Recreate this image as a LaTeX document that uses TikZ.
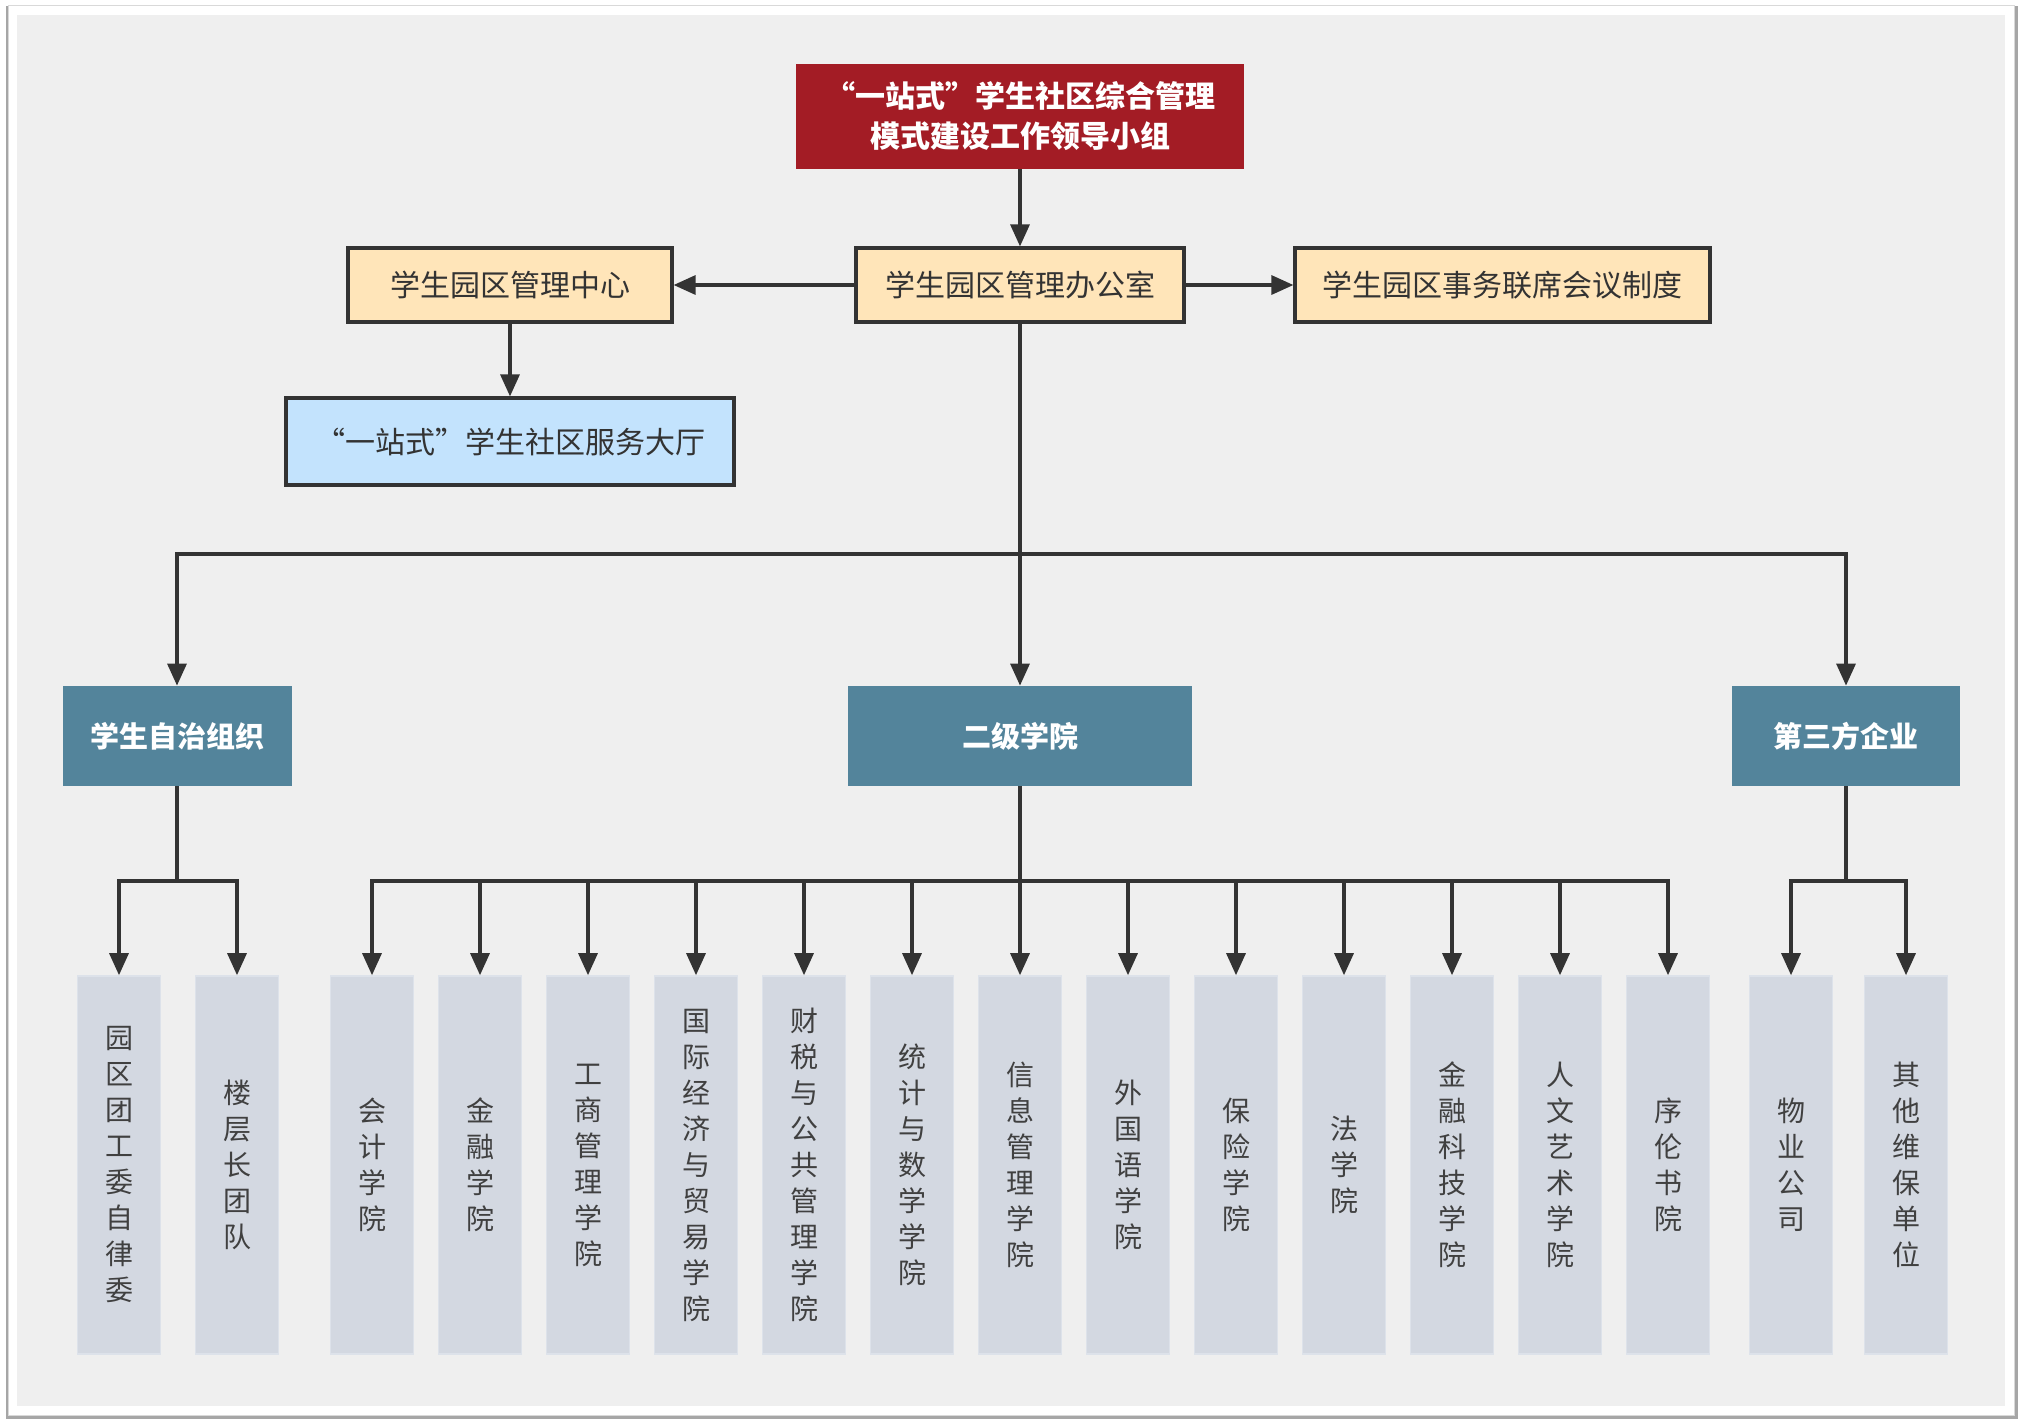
\documentclass[tikz,border=0pt]{standalone}
\usepackage{fontspec}
\setmainfont{Noto Sans CJK SC}
\usetikzlibrary{arrows.meta}
\definecolor{leadred}{HTML}{A31C25}
\definecolor{officeyellow}{HTML}{FFE5B9}
\definecolor{hallblue}{HTML}{C3E3FD}
\definecolor{unitteal}{HTML}{53849B}
\definecolor{leafgray}{HTML}{D3D8E1}
\definecolor{leafedge}{HTML}{DDE2EA}
\definecolor{linegray}{HTML}{333333}
\definecolor{pagegray}{HTML}{EFEFEF}
\begin{document}
\begin{tikzpicture}[x=0.5pt, y=-0.5pt,
  wire/.style={draw=linegray, line width=1.6pt},
  conn/.style={wire, -{Triangle[length=11pt,width=9.5pt]}},
  topbox/.style={fill=leadred, text=white, font=\fontsize{15}{20}\selectfont\bfseries, align=center},
  yellowbox/.style={draw=linegray, line width=1.6pt, fill=officeyellow, text=black!80, font=\fontsize{15}{18}\selectfont, minimum height=37pt},
  tealbox/.style={fill=unitteal, text=white, font=\fontsize{14.5}{18}\selectfont\bfseries, minimum height=50pt},
  leafbox/.style={fill=leafgray, draw=leafedge, line width=0.8pt, text=black!75, font=\fontsize{14}{18}\selectfont, align=center, minimum width=41.5pt, minimum height=189pt}]
\useasboundingbox (0,0) rectangle (2022,1425);
% Rahmen
\fill[black!35] (6,6) rectangle (2018,1419);
\filldraw[fill=white, draw=black!15] (8,5) rectangle (2014,1415);
\fill[pagegray] (17,15) rectangle (2005,1406);

% Leitung und Buero
\node[topbox, minimum width=224pt, minimum height=52.5pt] (lead) at (1020,116.5) {“一站式”学生社区综合管理\\模式建设工作领导小组};
\node[yellowbox, minimum width=164pt] (office) at (1020,285) {学生园区管理办公室};
\node[yellowbox, minimum width=162pt] (center) at (510,285) {学生园区管理中心};
\node[yellowbox, minimum width=207.5pt] (joint) at (1502.5,285) {学生园区事务联席会议制度};
\node[draw=linegray, line width=1.6pt, fill=hallblue, text=black!80, font=\fontsize{15}{18}\selectfont, minimum width=224pt, minimum height=43.5pt] (hall) at (510,441.5) {“一站式”学生社区服务大厅};

\draw[conn] (lead) -- (office);
\draw[conn] (office) -- (center);
\draw[conn] (office) -- (joint);
\draw[conn] (center) -- (hall);

% zweite Ebene
\node[tealbox, minimum width=114.5pt] (selfgov) at (177,736) {学生自治组织};
\node[tealbox, minimum width=172pt] (college) at (1020,736) {二级学院};
\node[tealbox, minimum width=114pt] (third) at (1846,736) {第三方企业};

\coordinate (split) at (1020,554);
\draw[wire] (office) -- (split);
\draw[conn] (split) -| (selfgov);
\draw[conn] (split) -- (college);
\draw[conn] (split) -| (third);

% Blaetter
\foreach \x/\n/\t in {119/sg1/园\\区\\团\\工\\委\\自\\律\\委, 237/sg2/楼\\层\\长\\团\\队}
  \node[leafbox] (\n) at (\x,1165) {\t};
\foreach \x/\n/\t in {372/col1/会\\计\\学\\院, 480/col2/金\\融\\学\\院, 588/col3/工\\商\\管\\理\\学\\院,
  696/col4/国\\际\\经\\济\\与\\贸\\易\\学\\院, 804/col5/财\\税\\与\\公\\共\\管\\理\\学\\院,
  912/col6/统\\计\\与\\数\\学\\学\\院, 1020/col7/信\\息\\管\\理\\学\\院, 1128/col8/外\\国\\语\\学\\院,
  1236/col9/保\\险\\学\\院, 1344/col10/法\\学\\院, 1452/col11/金\\融\\科\\技\\学\\院,
  1560/col12/人\\文\\艺\\术\\学\\院, 1668/col13/序\\伦\\书\\院}
  \node[leafbox] (\n) at (\x,1165) {\t};
\foreach \x/\n/\t in {1791/tp1/物\\业\\公\\司, 1906/tp2/其\\他\\维\\保\\单\\位}
  \node[leafbox] (\n) at (\x,1165) {\t};

\coordinate (sgbus) at (177,881);
\coordinate (colbus) at (1020,881);
\coordinate (tpbus) at (1846,881);
\draw[wire] (selfgov) -- (sgbus);
\draw[wire] (college) -- (colbus);
\draw[wire] (third) -- (tpbus);
\foreach \n in {sg1,sg2}
  \draw[conn] (sgbus) -| (\n);
\foreach \n in {col1,col2,col3,col4,col5,col6,col7,col8,col9,col10,col11,col12,col13}
  \draw[conn] (colbus) -| (\n);
\foreach \n in {tp1,tp2}
  \draw[conn] (tpbus) -| (\n);
\end{tikzpicture}
\end{document}
